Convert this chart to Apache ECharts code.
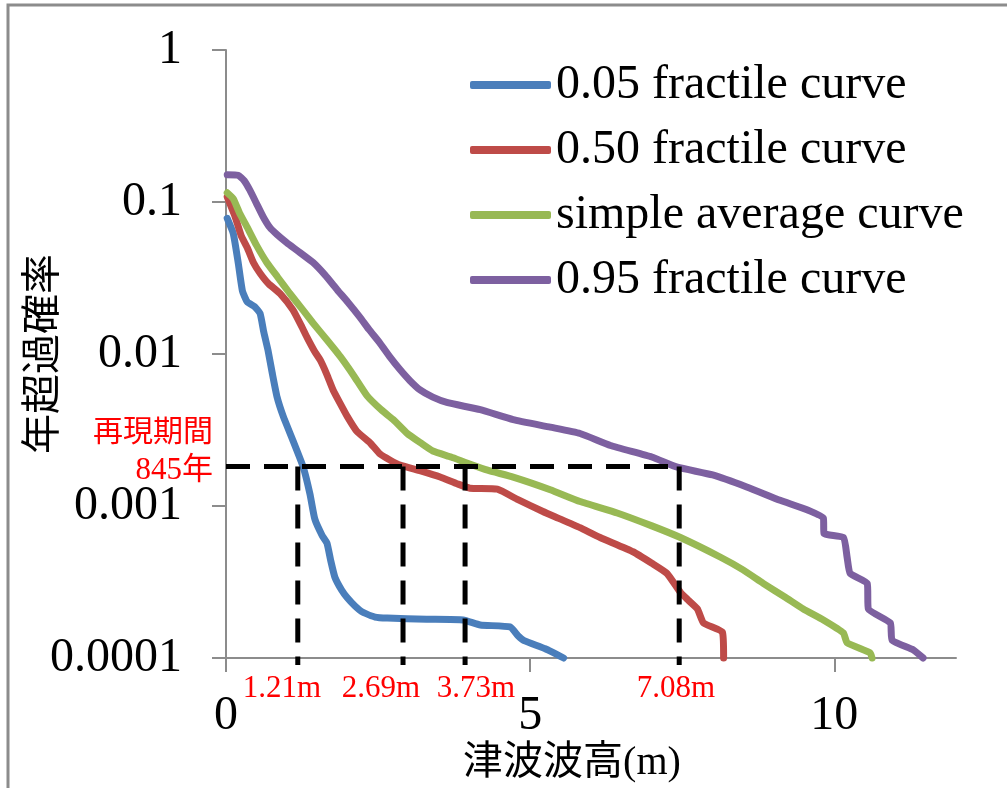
<!DOCTYPE html>
<html>
<head>
<meta charset="utf-8">
<script src="https://cdn.jsdelivr.net/npm/echarts@6/dist/echarts.min.js"></script>
<style>
  html, body { margin: 0; padding: 0; background: #fff; }
  #chart { width: 1007px; height: 788px; }
</style>
</head>
<body>
<div id="chart"></div>
<script>
// hazard curves: [tsunami height (m), annual exceedance probability]
const q05 = [[0.02, 0.078], [0.12, 0.062], [0.2, 0.04], [0.27, 0.026], [0.35, 0.022], [0.47, 0.0205],
  [0.56, 0.0185], [0.62, 0.014], [0.69, 0.0106], [0.76, 0.0075], [0.84, 0.0052], [0.94, 0.0039],
  [1.1, 0.0027], [1.27, 0.0018], [1.38, 0.0012], [1.46, 0.00082], [1.58, 0.00064], [1.66, 0.00057],
  [1.72, 0.00044], [1.79, 0.00034], [1.9, 0.00028], [1.99, 0.00025], [2.12, 0.00022], [2.25, 0.0002],
  [2.45, 0.000186], [2.65, 0.000183], [3.3, 0.00018], [3.9, 0.000178], [4.18, 0.000165], [4.67, 0.00016],
  [4.8, 0.00014], [4.9, 0.00013], [5.25, 0.000115], [5.55, 0.0001]];
const q50 = [[0.02, 0.108], [0.15, 0.08], [0.25, 0.06], [0.35, 0.05], [0.45, 0.04], [0.56, 0.034],
  [0.7, 0.029], [0.89, 0.025], [1.1, 0.0195], [1.25, 0.015], [1.33, 0.0129], [1.45, 0.0105],
  [1.55, 0.0091], [1.66, 0.0073], [1.76, 0.0058], [1.88, 0.0047], [1.99, 0.0039], [2.15, 0.0031],
  [2.37, 0.0026], [2.53, 0.0022], [2.7, 0.002], [2.86, 0.00186], [3.2, 0.0017], [3.52, 0.00155],
  [3.8, 0.0014], [4.01, 0.00131], [4.46, 0.00129], [4.8, 0.0011], [5.21, 0.00092], [5.5, 0.00082],
  [5.82, 0.00072], [6.15, 0.00062], [6.69, 0.0005], [7.0, 0.00042], [7.25, 0.00036], [7.47, 0.00027],
  [7.6, 0.00024], [7.75, 0.00021], [7.85, 0.00017], [8.16, 0.000148], [8.18, 0.0001]];
const avg = [[0.02, 0.115], [0.12, 0.105], [0.22, 0.085], [0.35, 0.068], [0.5, 0.052], [0.67, 0.04],
  [0.85, 0.032], [1.05, 0.025], [1.25, 0.0198], [1.43, 0.016], [1.65, 0.0125], [1.88, 0.0096],
  [2.1, 0.0072], [2.32, 0.0053], [2.55, 0.0043], [2.75, 0.0037], [2.98, 0.003], [3.2, 0.0026],
  [3.4, 0.0023], [3.7, 0.0021], [3.96, 0.00192], [4.3, 0.00172], [4.72, 0.00155], [5.33, 0.00128],
  [5.82, 0.00107], [6.43, 0.0009], [7.0, 0.00074], [7.47, 0.00062], [8.13, 0.00046], [8.5, 0.00038],
  [8.83, 0.00031], [9.2, 0.00025], [9.49, 0.00021], [9.82, 0.000178], [10.15, 0.000146],
  [10.21, 0.000126], [10.59, 0.000108], [10.62, 0.0001]];
const q95 = [[0.02, 0.151], [0.2, 0.15], [0.3, 0.138], [0.39, 0.12], [0.5, 0.098], [0.61, 0.08],
  [0.72, 0.068], [0.84, 0.061], [1.0, 0.054], [1.17, 0.048], [1.43, 0.04], [1.63, 0.033],
  [1.83, 0.0264], [2.0, 0.022], [2.2, 0.0175], [2.35, 0.0145], [2.53, 0.0118], [2.7, 0.0095],
  [2.86, 0.0079], [3.02, 0.0067], [3.19, 0.0058], [3.4, 0.0052], [3.63, 0.0048], [4.18, 0.0043],
  [4.72, 0.0037], [5.33, 0.0033], [5.82, 0.003], [6.32, 0.0025], [7.0, 0.0021], [7.42, 0.0018],
  [8.0, 0.0016], [8.57, 0.00133], [9.11, 0.00109], [9.56, 0.00094], [9.82, 0.00083], [9.83, 0.00066],
  [10.15, 0.00062], [10.21, 0.00046], [10.26, 0.00036], [10.54, 0.00031], [10.56, 0.00021],
  [10.92, 0.00017], [10.95, 0.000131], [11.3, 0.000113], [11.46, 0.0001]];

const seriesNames = ["0.05 fractile curve", "0.50 fractile curve", "simple average curve", "0.95 fractile curve"];
const seriesColors = ["#4a7ebb", "#be4b48", "#98b954", "#7d60a0"];

// return period guide lines
const periodLevel = 0.00182;
const guideX = [1.18, 2.91, 3.93, 7.45];
const guideLabels = ["1.21m", "2.69m", "3.73m", "7.08m"];
const guideBottom = 0.00009;

const serif = "'Liberation Serif', 'Times New Roman', serif";
const cjk = "'Liberation Serif', 'Noto Sans CJK JP', sans-serif";
const axisGray = "#8c8c8c";

const chart = echarts.init(document.getElementById("chart"), null, { renderer: "canvas" });

const curves = [q05, q50, avg, q95].map((d, i) => ({
  name: seriesNames[i],
  type: "line",
  data: d,
  showSymbol: false,
  symbol: "none",
  clip: false,
  smooth: 0.15,
  z: 2,
  lineStyle: { color: seriesColors[i], width: 7, cap: "round", join: "round" },
  itemStyle: { color: seriesColors[i] },
}));

const dashStyle = { color: "#000", width: 5, type: [24, 14], cap: "butt" };
const guides = [
  { name: "guide-h", type: "line", data: [[0, periodLevel], [guideX[3], periodLevel]] },
  ...guideX.map((x, i) => ({ name: "guide-v" + i, type: "line", data: [[x, periodLevel], [x, guideBottom]] })),
].map((s) => ({ ...s, symbol: "none", silent: true, clip: false, z: 5, lineStyle: dashStyle }));

// text label centres for the guide values (below the axis)
const labelCentres = [282, 381, 476, 676];

chart.setOption({
  animation: false,
  backgroundColor: "#fff",
  grid: { left: 226, top: 50, width: 730, height: 608, containLabel: false, outerBoundsMode: "none" },
  legend: {
    data: seriesNames,
    orient: "vertical",
    left: 465,
    top: 55,
    icon: "roundRect",
    itemWidth: 81,
    itemHeight: 8,
    itemGap: 15,
    textStyle: { fontFamily: serif, fontSize: 48, color: "#000", lineHeight: 50, padding: [0, 0, 0, 0] },
  },
  xAxis: {
    type: "value",
    min: 0,
    max: 12,
    interval: 5,
    axisLine: { show: true, lineStyle: { color: axisGray, width: 2 } },
    axisTick: { show: true, length: 14, lineStyle: { color: axisGray, width: 2 } },
    axisLabel: { fontFamily: serif, fontSize: 48, color: "#000", margin: 34, showMaxLabel: false },
    splitLine: { show: false },
  },
  yAxis: {
    type: "log",
    logBase: 10,
    min: 0.0001,
    max: 1,
    name: "年超過確率",
    nameLocation: "middle",
    nameRotate: 90,
    nameGap: 166,
    nameMoveOverlap: false,
    nameTextStyle: { fontFamily: "'Noto Sans CJK JP', sans-serif", fontSize: 40, color: "#000" },
    axisLine: { show: true, lineStyle: { color: axisGray, width: 2 } },
    axisTick: { show: true, length: 14, lineStyle: { color: axisGray, width: 2 } },
    axisLabel: {
      fontFamily: serif,
      fontSize: 48,
      color: "#000",
      margin: 44,
      formatter: (v) => String(+v.toPrecision(1)),
    },
    splitLine: { show: false },
    minorTick: { show: false },
  },
  graphic: [
    {
      type: "rect",
      shape: { x: 8, y: 5, width: 1200, height: 900 },
      style: { fill: "none", stroke: axisGray, lineWidth: 3 },
      silent: true,
      z: -1,
    },
    {
      type: "text",
      style: { x: 213, y: 430, text: "再現期間", fill: "#ff0000", font: "30px 'Noto Sans CJK JP', sans-serif", align: "right", verticalAlign: "middle" },
    },
    {
      type: "text",
      style: { x: 213, y: 471, text: "845年", fill: "#ff0000", font: "31px " + cjk, align: "right", verticalAlign: "middle" },
    },
    ...guideLabels.map((t, i) => ({
      type: "text",
      style: { x: labelCentres[i], y: 689, text: t, fill: "#ff0000", font: "31px " + serif, align: "center", verticalAlign: "middle" },
    })),
    {
      type: "text",
      style: { x: 572, y: 763, text: "津波波高(m)", fill: "#000", font: "40px " + cjk, align: "center", verticalAlign: "middle" },
    },
  ],
  series: [...curves, ...guides],
});
</script>
</body>
</html>
